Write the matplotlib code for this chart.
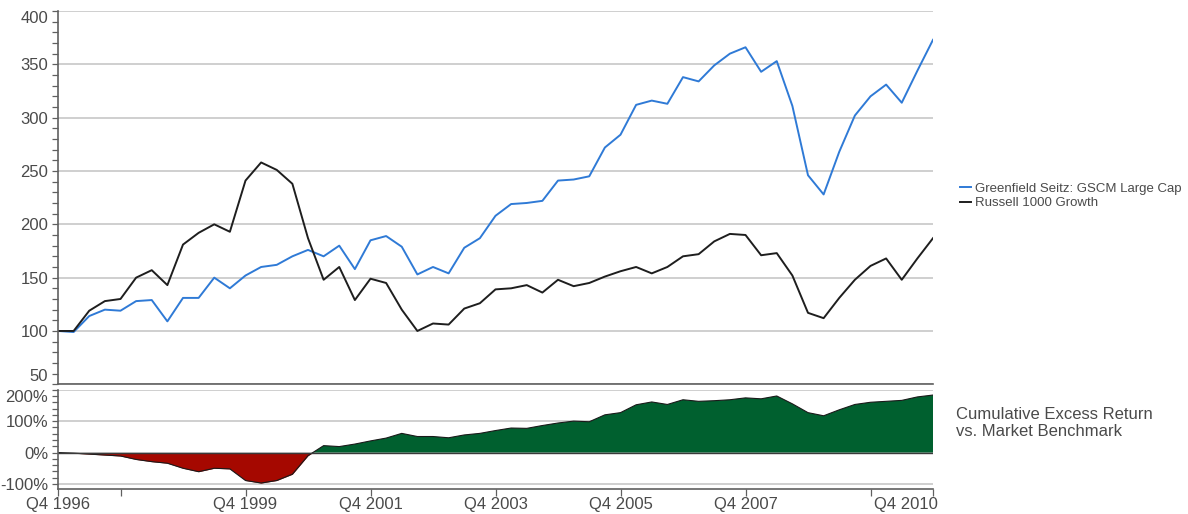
import numpy as np
import matplotlib
matplotlib.use("Agg")
import matplotlib.pyplot as plt
import matplotlib.transforms as mtransforms
from matplotlib.ticker import MultipleLocator, FixedLocator

plt.rcParams['font.family'] = ['Liberation Sans', 'DejaVu Sans']

# quarterly axis, Q4 1996 .. Q4 2010
quarters = [f"Q{q} {y}" for y in range(1996, 2011) for q in (1, 2, 3, 4)][3:]

gscm = [100, 99, 114, 120, 119, 128, 129, 109, 131, 131, 150, 140, 152, 160, 162,
        170, 176, 170, 180, 158, 185, 189, 179, 153, 160, 154, 178, 187, 208, 219,
        220, 222, 241, 242, 245, 272, 284, 312, 316, 313, 338, 334, 349, 360, 366,
        343, 353, 311, 246, 228, 268, 302, 320, 331, 314, 344, 373]
r1000g = [100, 100, 119, 128, 130, 150, 157, 143, 181, 192, 200, 193, 241, 258, 251,
          238, 187, 148, 160, 129, 149, 145, 120, 100, 107, 106, 121, 126, 139, 140,
          143, 136, 148, 142, 145, 151, 156, 160, 154, 160, 170, 172, 184, 191, 190,
          171, 173, 152, 117, 112, 131, 148, 161, 168, 148, 168, 187]
excess = [0, -2, -5, -8, -11, -22, -29, -34, -50, -61, -50, -52, -89, -97, -89,
          -69, -10, 22, 19, 27, 37, 46, 61, 51, 51, 47, 56, 61, 70, 78,
          77, 86, 94, 100, 98, 120, 127, 152, 161, 153, 168, 163, 165, 168, 174,
          171, 180, 155, 127, 117, 136, 153, 160, 163, 166, 177, 183]

series_names = ["Greenfield Seitz: GSCM Large Cap", "Russell 1000 Growth"]
tick_quarters = ["Q4 1996", "Q4 1997", "Q4 1999", "Q4 2001", "Q4 2003",
                 "Q4 2005", "Q4 2007", "Q4 2009", "Q4 2010"]
unlabeled = ["Q4 1997", "Q4 2009"]
excess_title = "Cumulative Excess Return\nvs. Market Benchmark"

BLUE = "#2f7ad6"
BLACK = "#1e1e1e"
RED = "#a50800"
GREEN = "#00602f"
GRID = "#cfcfcf"
AXIS = "#606060"
TEXT = "#4a4a4a"

x = np.arange(len(quarters))
W, H = 1188, 514
fig = plt.figure(figsize=(W / 100, H / 100), dpi=100)

left, right = 58 / W, 933 / W
ax = fig.add_axes([left, 1 - 384.3 / H, right - left, (384.3 - 11) / H])
ax2 = fig.add_axes([left, 1 - 489 / H, right - left, (489 - 389.7) / H])


def style_axis(a):
    for s in ("top", "right"):
        a.spines[s].set_visible(False)
    a.spines["left"].set_color(AXIS)
    a.spines["bottom"].set_color(AXIS)
    a.spines["left"].set_linewidth(1.2)
    a.spines["bottom"].set_linewidth(1.2)
    a.set_axisbelow(True)
    a.yaxis.grid(True, color=GRID, lw=1.4)
    a.tick_params(axis="y", which="both", direction="out", color=AXIS, length=4,
                  width=0.9, labelsize=12, labelcolor=TEXT, pad=3)
    a.set_xlim(x[0], x[-1])


# top panel: growth of 100
style_axis(ax)
ax.plot(x, gscm, color=BLUE, lw=1.4, label=series_names[0])
ax.plot(x, r1000g, color=BLACK, lw=1.4, label=series_names[1])
ax.set_ylim(50, 400)
ax.yaxis.set_major_locator(MultipleLocator(50))
ax.yaxis.set_minor_locator(MultipleLocator(10))
ax.tick_params(axis="x", which="both", bottom=False, labelbottom=False)
fig.canvas.draw()
for lab in ax.get_yticklabels():
    if lab.get_text() == "400":
        lab.set_va("top")
    elif lab.get_text() == "50":
        lab.set_va("bottom")

fig.legend(loc="center left", bbox_to_anchor=(953 / W, 1 - 196 / H), frameon=False,
           fontsize=9.5, handlelength=0.9, handletextpad=0.3, labelspacing=0.15,
           labelcolor=TEXT, borderpad=0)

# bottom panel: cumulative excess return
style_axis(ax2)
ex = np.array(excess, dtype=float)
ax2.fill_between(x, ex, 0, where=ex >= 0, interpolate=True, color=GREEN, lw=0)
ax2.fill_between(x, ex, 0, where=ex <= 0, interpolate=True, color=RED, lw=0)
ax2.plot(x, ex, color="#1a1a1a", lw=0.8)
ax2.axhline(0, color="#3a3a3a", lw=1.0)
ax2.set_ylim(-116, 200)
ax2.yaxis.set_major_locator(FixedLocator([-100, 0, 100, 200]))
ax2.yaxis.set_minor_locator(MultipleLocator(20))
ax2.set_yticklabels(["-100%", "0%", "100%", "200%"])
ax2.get_yticklabels()[-1].set_va("top")

tick_pos = [quarters.index(q) for q in tick_quarters]
ax2.set_xticks(tick_pos)
ax2.set_xticklabels(["" if q in unlabeled else q for q in tick_quarters])
ax2.tick_params(axis="x", direction="out", color=AXIS, length=5, width=0.9,
                labelsize=12, labelcolor=TEXT, pad=0.5)
last = ax2.get_xticklabels()[-1]
last.set_ha("right")
last.set_transform(last.get_transform() + mtransforms.ScaledTranslation(5 / 100, 0, fig.dpi_scale_trans))

fig.text(956 / W, 1 - 423 / H, excess_title, fontsize=12, color=TEXT,
         va="center", ha="left", linespacing=1.15)

fig.savefig("out.png", dpi=100)
